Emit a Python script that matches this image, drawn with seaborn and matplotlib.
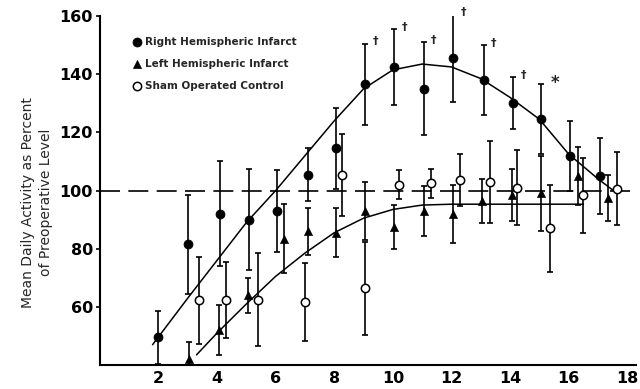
import numpy as np
import pandas as pd
import matplotlib
matplotlib.use('Agg')
import matplotlib.pyplot as plt
from matplotlib.font_manager import FontProperties
import seaborn as sns

# Data (weeks after surgery vs % of preoperative activity)
right_x = [2.0, 3.0, 4.1, 5.1, 6.05, 7.1, 8.05, 9.05, 10.05, 11.05, 12.05, 13.1, 14.1, 15.05, 16.05, 17.05]
right_y = [49.5, 81.5, 92, 90, 93, 105.5, 114.5, 136.5, 142.5, 135, 145.5, 138, 130, 124.5, 112, 105]
right_err = [9, 17, 18, 17.5, 14, 9, 14, 14, 13, 16, 15, 12, 9, 12, 12, 13]

left_x = [3.05, 4.05, 5.05, 6.3, 7.1, 8.05, 9.05, 10.05, 11.05, 12.05, 13.05, 14.05, 15.05, 16.3, 17.35]
left_y = [42, 52, 64, 83.5, 86, 85.5, 93, 87.5, 93, 92, 96.5, 98.5, 99, 105, 97.5]
left_err = [6, 8.5, 6, 12, 8, 8.5, 10, 7.5, 8.5, 10, 7.5, 9, 13, 10, 8]

sham_x = [3.4, 4.3, 5.4, 7.0, 8.25, 9.05, 10.2, 11.3, 12.3, 13.3, 14.25, 15.35, 16.5, 17.65]
sham_y = [62.3, 62.3, 62.5, 61.7, 105.4, 66.4, 102, 102.5, 103.7, 103, 101, 87, 98.3, 100.6]
sham_err = [15, 13, 16, 13.5, 14, 16, 5, 5, 9, 14, 13, 15, 13, 12.6]

# hand-drawn fitted curves, read at knots
rcurve_x = [1.8, 3, 4, 5, 6, 7, 8, 9, 10, 11, 12, 13, 14, 15, 16, 17, 17.6]
rcurve_y = [47, 63, 76, 89, 100, 112, 124, 135, 141.5, 143.5, 142.5, 138.5, 132, 124.5, 112.5, 104, 99.4]
lcurve_x = [3.3, 4, 5, 6, 7, 8, 9, 10, 11, 12, 13, 14, 15, 16, 16.5]
lcurve_y = [43.5, 51, 61, 70.5, 78.5, 85.5, 90.5, 93.5, 95, 95.3, 95.3, 95.3, 95.3, 95.3, 95.3]

# significance marks
dagger_x = [9.05, 10.05, 11.05, 12.05, 13.1, 14.1]
star_x = [15.05]

sns.set_theme(style='white')
plt.rcParams['font.family'] = ['DejaVu Sans']

tick_fp = FontProperties(family='DejaVu Sans', weight='bold', size=11.5)
leg_fp = FontProperties(family='DejaVu Sans', weight='bold', size=7.5)

fig = plt.figure(figsize=(6.4, 3.89), dpi=100)
ax = fig.add_axes([0.156, 0.0617, 0.838, 0.897])

#Error bars
for xs, ys, es in [(right_x, right_y, right_err), (left_x, left_y, left_err), (sham_x, sham_y, sham_err)]:
    ax.errorbar(xs, ys, yerr=es, fmt='none', ecolor='black', elinewidth=1.2,
                capsize=2.2, capthick=1.2, zorder=2)

#Fitted curves
rc = pd.DataFrame({'x': rcurve_x, 'y': rcurve_y})
lc = pd.DataFrame({'x': lcurve_x, 'y': lcurve_y})
sns.lineplot(data=rc, x='x', y='y', color='black', lw=1.1, ax=ax, zorder=3)
sns.lineplot(data=lc, x='x', y='y', color='black', lw=1.1, ax=ax, zorder=3)

#Preoperative reference
ax.axhline(100, color='black', lw=1.2, dashes=(12, 5), zorder=1)

#Group markers
sns.scatterplot(x=right_x, y=right_y, marker='o', s=42, color='black', edgecolor='black',
                ax=ax, zorder=4, label='Right Hemispheric Infarct')
sns.scatterplot(x=left_x, y=left_y, marker='^', s=34, color='black', edgecolor='black',
                ax=ax, zorder=4, label='Left Hemispheric Infarct')
sns.scatterplot(x=sham_x, y=sham_y, marker='o', s=36, facecolor='white', edgecolor='black',
                linewidth=1.1, ax=ax, zorder=4, label='Sham Operated Control')

top_r = dict(zip(right_x, np.array(right_y) + np.array(right_err)))
for xv in dagger_x:
    ax.text(xv + 0.25, top_r[xv] + 0.8, '\u2020', fontsize=8, fontweight='bold',
            ha='left', va='center')
for xv in star_x:
    ax.text(xv + 0.35, top_r[xv] + 0.5, '*', fontsize=12, fontweight='bold',
            ha='left', va='center')

ax.set_xlim(0, 18.3)
ax.set_ylim(40, 160)
ax.set_xticks(range(2, 19, 2))
ax.set_yticks(range(60, 161, 20))
ax.tick_params(axis='both', colors='black')
ax.tick_params(axis='x', length=0, pad=4)
ax.tick_params(axis='y', length=3, width=1.2, direction='out', pad=2, left=True)
for lbl in ax.get_xticklabels() + ax.get_yticklabels():
    lbl.set_fontproperties(tick_fp)
for side in ['top', 'right']:
    ax.spines[side].set_visible(False)
for side in ['left', 'bottom']:
    ax.spines[side].set_color('black')
    ax.spines[side].set_linewidth(1.5)
ax.set_xlabel('')
ax.set_ylabel('')

fig.text(0.058, 0.48, 'Mean Daily Activity as Percent\nof Preoperative Level', rotation=90,
         ha='center', va='center', fontsize=10, linespacing=1.3)

leg = ax.legend(loc='upper left', bbox_to_anchor=(0.056, 0.952), frameon=False,
                handlelength=0.5, handletextpad=0.55, labelspacing=1.15, borderaxespad=0,
                prop=leg_fp)

fig.savefig('out.png', dpi=100)
